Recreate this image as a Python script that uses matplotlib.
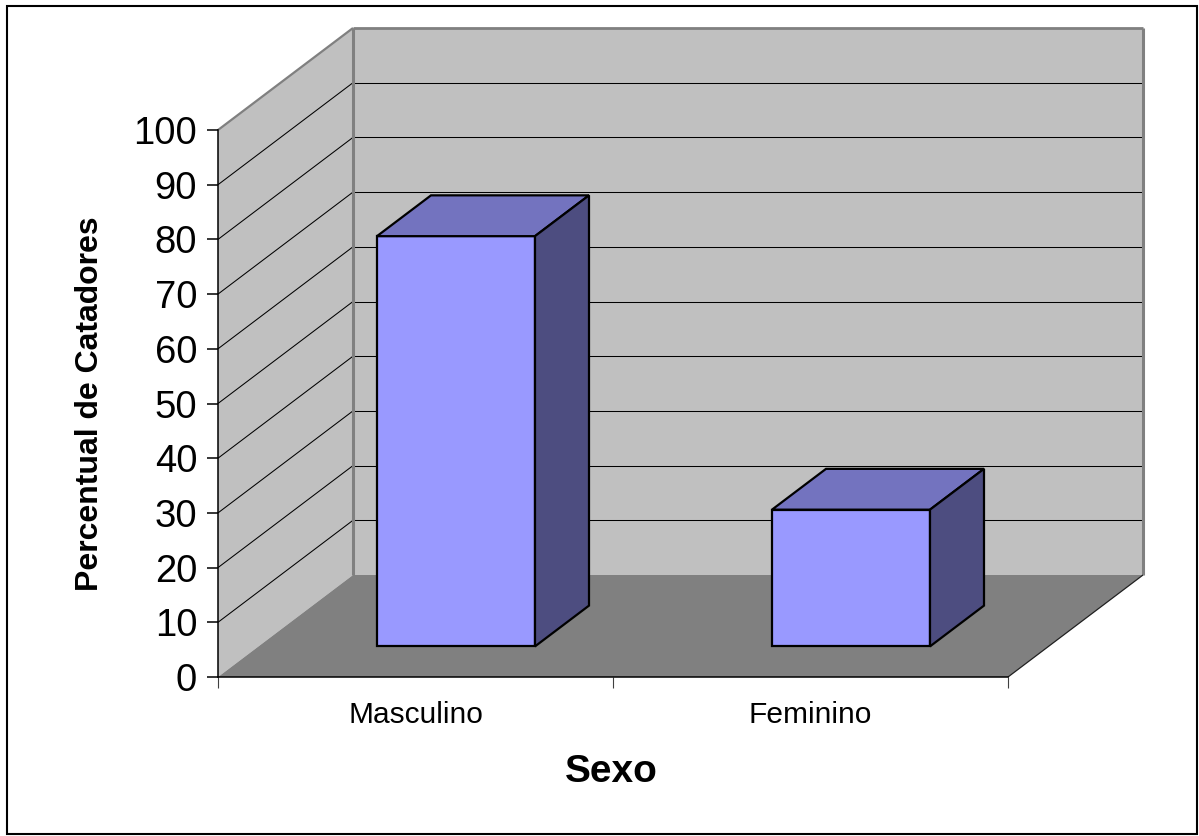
import matplotlib
matplotlib.use('Agg')
import matplotlib.pyplot as plt
from matplotlib.patches import Polygon, Rectangle
from matplotlib.lines import Line2D
from matplotlib.transforms import IdentityTransform

categorias = ['Masculino', 'Feminino']
percentuais = [75, 25]
marcas_y = list(range(0, 101, 10))

plt.rcParams['font.family'] = ['Liberation Sans', 'DejaVu Sans']

W, H = 1199, 836
fig = plt.figure(figsize=(W / 100, H / 100), dpi=100)
ax = fig.add_axes([218 / W, 1 - 677 / H, 790 / W, 547 / H])
ax.set_xlim(0, len(categorias))
ax.set_ylim(0, 100)
ax.patch.set_visible(False)

# deslocamento da profundidade total (em pixels)
PROF_X, PROF_Y = 135, 102


def proj(x, v, d):
    px, py = ax.transData.transform((x, v))
    return (px + PROF_X * d, py + PROF_Y * d)


def face(pts, cor, z, ec='none', lw=0):
    ax.add_patch(Polygon([proj(*p) for p in pts], closed=True, facecolor=cor,
                         edgecolor=ec, linewidth=lw, joinstyle='miter',
                         transform=IdentityTransform(), zorder=z, clip_on=False))


def linha(p0, p1, cor, lw, z):
    a, b = proj(*p0), proj(*p1)
    ax.add_line(Line2D([a[0], b[0]], [a[1], b[1]], color=cor, linewidth=lw,
                       transform=IdentityTransform(), zorder=z, clip_on=False,
                       solid_capstyle='butt'))


n = len(categorias)

# paredes e piso
face([(0, 0, 0), (0, 0, 1), (0, 100, 1), (0, 100, 0)], '#c0c0c0', 0.5)
face([(0, 0, 1), (n, 0, 1), (n, 100, 1), (0, 100, 1)], '#c0c0c0', 0.5)
face([(0, 0, 0), (n, 0, 0), (n, 0, 1), (0, 0, 1)], '#808080', 0.6)

# linhas de grade
for v in marcas_y[1:-1]:
    linha((0, v, 0), (0, v, 1), 'black', 0.75, 0.8)
    linha((0, v, 1), (n, v, 1), 'black', 0.75, 0.8)

# bordas das paredes
linha((0, 100, 0), (0, 100, 1), '#808080', 1.6, 0.9)
linha((0, 100, 1), (n, 100, 1), '#808080', 2.0, 0.9)
linha((0, 0, 1), (0, 100, 1), '#808080', 2.2, 0.9)
linha((n, 0, 1), (n, 100, 1), '#808080', 2.2, 0.9)
linha((n, 0, 0), (n, 0, 1), '#202020', 0.9, 0.9)

# barras 3D
larg = 0.4
d0, d1 = 0.3, 0.7
for i, val in enumerate(percentuais):
    x0 = i + 0.5 - larg / 2
    x1 = i + 0.5 + larg / 2
    face([(x0, 0, d0), (x1, 0, d0), (x1, val, d0), (x0, val, d0)],
         '#9999ff', 3, ec='black', lw=1.6)
    face([(x0, val, d0), (x1, val, d0), (x1, val, d1), (x0, val, d1)],
         '#7373bf', 3, ec='black', lw=1.6)
    face([(x1, 0, d0), (x1, 0, d1), (x1, val, d1), (x1, val, d0)],
         '#4d4d80', 3, ec='black', lw=1.6)

# eixos
for lado in ['top', 'right']:
    ax.spines[lado].set_visible(False)
for lado in ['left', 'bottom']:
    ax.spines[lado].set_linewidth(1.1)
    ax.spines[lado].set_color('black')

ax.set_yticks(marcas_y)
ax.tick_params(axis='y', length=8, width=1.1, labelsize=27.5, pad=7)

ax.set_xticks(range(n + 1))
ax.tick_params(axis='x', which='major', length=8, width=0.8, color='#404040',
               labelbottom=False)
ax.set_xticks([i + 0.5 for i in range(n)], minor=True)
ax.set_xticklabels(categorias, minor=True)
ax.tick_params(axis='x', which='minor', length=0, labelsize=21.5, pad=17.5)

ax.set_ylabel('Percentual de Catadores', fontsize=23, fontweight='bold')
ax.yaxis.set_label_coords(-0.143, 0.5)

fig.text(611.5 / W, 1 - 782 / H, 'Sexo', ha='center', va='baseline',
         fontsize=28, fontweight='bold')

# moldura externa
fig.add_artist(Rectangle((7 / W, 1 - 834 / H), 1190 / W, 828 / H,
                         transform=fig.transFigure, fill=False,
                         edgecolor='black', linewidth=1.5))

fig.savefig('out.png', dpi=100, facecolor='white')
